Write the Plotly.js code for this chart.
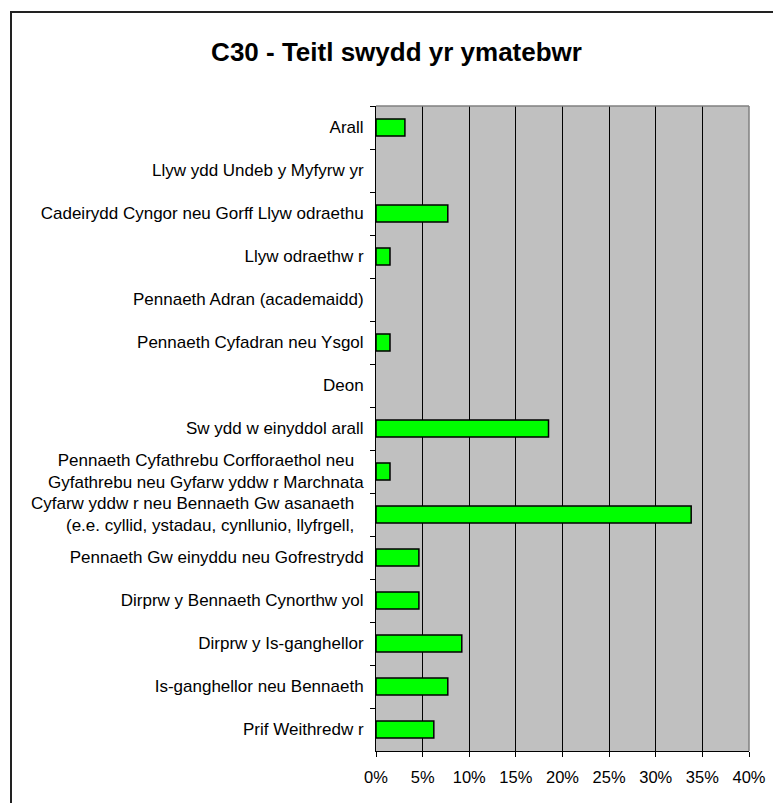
<!DOCTYPE html>
<html>
<head>
<meta charset="utf-8">
<script src="https://cdn.plot.ly/plotly-3.0.1.min.js"></script>
<style>
  html, body { margin: 0; padding: 0; background: #ffffff; overflow: hidden; }
  #wrap { position: relative; width: 773px; height: 803px; }
  #chart { width: 773px; height: 803px; }
  #frame { position: absolute; left: 10px; top: 11px; width: 900px; height: 900px;
           border-left: 2px solid #222222; border-top: 2px solid #222222;
           pointer-events: none; box-sizing: border-box; }
</style>
</head>
<body>
<div id="wrap">
<div id="chart"></div>
<div id="frame"></div>
</div>
<script>
// Categories, top to bottom as shown in the chart
const categories = [
  "Arall",
  "Llyw ydd Undeb y Myfyrw yr",
  "Cadeirydd Cyngor neu Gorff Llyw odraethu",
  "Llyw odraethw r",
  "Pennaeth Adran (academaidd)",
  "Pennaeth Cyfadran neu Ysgol",
  "Deon",
  "Sw ydd w einyddol arall",
  "Pennaeth Cyfathrebu Corfforaethol neu\u00a0\u00a0<br>Gyfathrebu neu Gyfarw yddw r Marchnata",
  "Cyfarw yddw r neu Bennaeth Gw asanaeth\u00a0\u00a0<br>(e.e. cyllid, ystadau, cynllunio, llyfrgell,\u00a0\u00a0",
  "Pennaeth Gw einyddu neu Gofrestrydd",
  "Dirprw y Bennaeth Cynorthw yol",
  "Dirprw y Is-ganghellor",
  "Is-ganghellor neu Bennaeth",
  "Prif Weithredw r"
];

// Percent of respondents
const percentages = [3.1, 0, 7.7, 1.5, 0, 1.5, 0, 18.5, 1.5, 33.8, 4.6, 4.6, 9.2, 7.7, 6.2];

const xTickValues = [0, 5, 10, 15, 20, 25, 30, 35, 40];

const chartTitle = "C30 - Teitl swydd yr ymatebwr";

const FONT = '"Liberation Sans", Arial, Helvetica, sans-serif';

const trace = {
  type: 'bar',
  orientation: 'h',
  x: percentages,
  y: categories,
  marker: {
    color: '#00FF00',
    line: { color: '#000000', width: percentages.map(v => (v > 0 ? 1.5 : 0)) }
  },
  hoverinfo: 'x+y'
};

const layout = {
  width: 773,
  height: 803,
  margin: { l: 376, r: 24, t: 106, b: 52, pad: 0 },
  paper_bgcolor: '#FFFFFF',
  plot_bgcolor: '#C0C0C0',
  showlegend: false,
  bargap: 0.6,
  font: { family: FONT, size: 17, color: '#000000' },
  title: {
    text: '<b>' + chartTitle + '</b>',
    font: { family: FONT, size: 26, color: '#000000' },
    xref: 'container', x: 0.513, xanchor: 'center',
    yref: 'container', y: 0.935, yanchor: 'middle'
  },
  xaxis: {
    range: [0, 40],
    tickmode: 'array',
    tickvals: xTickValues,
    ticktext: xTickValues.map(v => v + '%'),
    showgrid: true,
    gridcolor: '#000000',
    gridwidth: 1,
    zeroline: false,
    showline: true,
    linecolor: '#000000',
    linewidth: 1,
    ticks: 'outside',
    ticklen: 5,
    tickcolor: '#000000',
    ticklabelstandoff: 6,
    tickfont: { family: FONT, size: 16.5, color: '#000000' },
    fixedrange: true
  },
  yaxis: {
    type: 'category',
    autorange: 'reversed',
    showgrid: false,
    zeroline: false,
    showline: true,
    linecolor: '#000000',
    linewidth: 1,
    ticks: 'outside',
    tickson: 'boundaries',
    ticklen: 5,
    tickcolor: '#000000',
    ticklabelstandoff: 8,
    tickfont: { family: FONT, size: 17, color: '#000000' },
    fixedrange: true
  },
  shapes: [
    { type: 'line', xref: 'paper', yref: 'paper', x0: 0, x1: 1, y0: 1, y1: 1,
      line: { color: '#808080', width: 1.5 } },
    { type: 'line', xref: 'paper', yref: 'paper', x0: 1, x1: 1, y0: 0, y1: 1,
      line: { color: '#808080', width: 1.5 } }
  ]
};

Plotly.newPlot('chart', [trace], layout, { displayModeBar: false, staticPlot: true });
</script>
</body>
</html>
